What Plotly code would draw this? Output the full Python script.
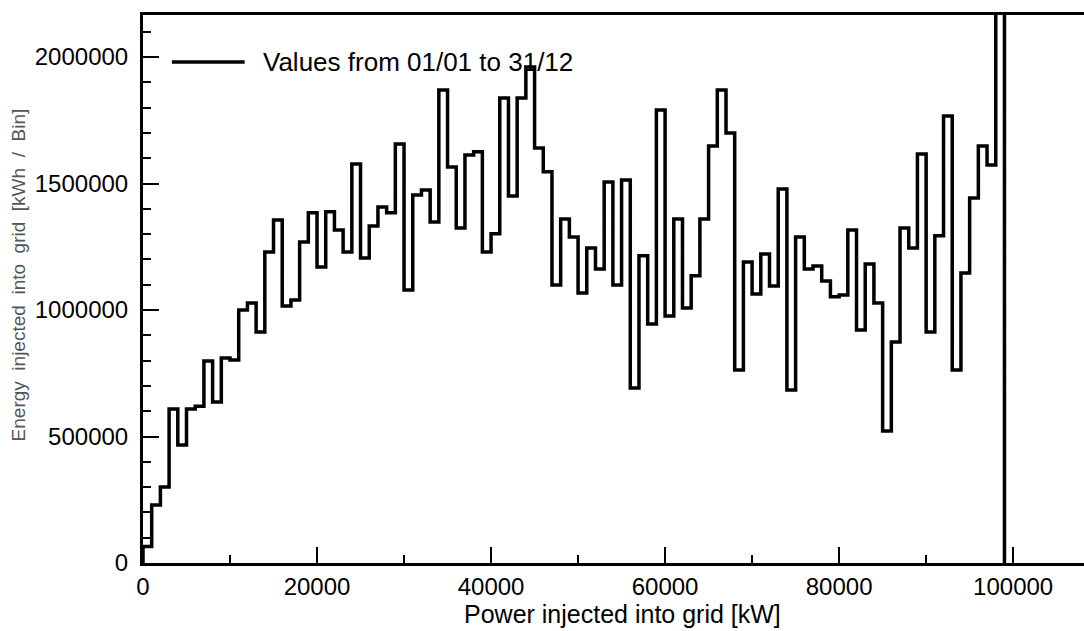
import plotly.graph_objects as go

# Power bins [kW] (bin width 1000 kW) and energy injected per bin [kWh]
bin_width_kw = 1000
bin_start_kw = list(range(0, 99000, bin_width_kw))
energy_kwh = [
    65000, 229000, 300000, 609000, 466000, 609000, 620000, 798000, 636000, 810000,
    802000, 1000000, 1028000, 913000, 1229000, 1356000, 1016000, 1040000, 1269000, 1384000,
    1170000, 1388000, 1316000, 1229000, 1577000, 1206000, 1332000, 1407000, 1384000, 1656000,
    1079000, 1455000, 1474000, 1348000, 1870000, 1565000, 1324000, 1613000, 1625000, 1229000,
    1301000, 1838000, 1451000, 1838000, 1960000, 1640000, 1546000, 1099000, 1360000, 1289000,
    1067000, 1245000, 1162000, 1506000, 1099000, 1514000, 692000, 1214000, 945000, 1791000,
    976000, 1360000, 1008000, 1135000, 1360000, 1648000, 1870000, 1700000, 763000, 1190000,
    1063000, 1221000, 1095000, 1478000, 684000, 1289000, 1162000, 1174000, 1115000, 1052000,
    1059000, 1316000, 921000, 1182000, 1028000, 522000, 874000, 1324000, 1245000, 1617000,
    913000, 1293000, 1767000, 763000, 1146000, 1443000, 1648000, 1573000, 2600000,
]
series_name = "Values from 01/01 to 31/12"
x_tick_vals = [0, 20000, 40000, 60000, 80000, 100000]
y_tick_vals = [0, 500000, 1000000, 1500000, 2000000]

# step outline: start at 0, one level per bin, drop back to 0 at the last edge
step_x = [0] + bin_start_kw + [bin_start_kw[-1] + bin_width_kw]
step_y = [0] + energy_kwh + [0]

W, H = 1090, 631
L, R, T, B = 143, 0, 15, 68
pw, ph = W - L - R, H - T - B

def px(xp):
    return (xp - L) / pw

def py(yp):
    return (H - B - yp) / ph

fig = go.Figure()
fig.add_trace(go.Scatter(
    x=step_x, y=step_y, mode="lines", line=dict(shape="hv", color="black", width=3.5),
    name=series_name, showlegend=False, hoverinfo="skip",
))

font_main = "Liberation Sans, Arial, sans-serif"
axis_common = dict(
    showgrid=False, zeroline=False, showline=True, linecolor="black", linewidth=3,
    mirror=True, ticks="inside", tickcolor="black", tickwidth=1.5, ticklen=16,
    tickformat="d",
)
fig.update_layout(
    width=W, height=H, margin=dict(l=L, r=R, t=T, b=B),
    paper_bgcolor="white", plot_bgcolor="white",
    xaxis=dict(range=[0, pw / 941 * 107800], tickvals=x_tick_vals, ticklabelstandoff=0,
               tickfont=dict(family=font_main, size=24, color="black"),
               minor=dict(dtick=10000, tick0=0, ticklen=8, ticks="inside", tickcolor="black", tickwidth=1.5),
               **axis_common),
    yaxis=dict(range=[0, 2166000], tickvals=y_tick_vals, ticklabelstandoff=7,
               tickfont=dict(family=font_main, size=24, color="black"),
               minor=dict(dtick=100000, tick0=0, ticklen=8, ticks="inside", tickcolor="black", tickwidth=1.5),
               **axis_common),
    showlegend=False,
)

# legend sample + label
fig.add_shape(type="line", xref="paper", yref="paper", x0=px(172), x1=px(245), y0=py(62), y1=py(62),
              line=dict(color="black", width=3.5))
fig.add_annotation(xref="paper", yref="paper", x=px(261), y=py(62), xanchor="left", yanchor="middle",
                   text=series_name, showarrow=False, font=dict(family=font_main, size=26, color="black"))

# axis titles
fig.add_annotation(xref="paper", yref="paper", x=px(624), y=py(614), xanchor="center", yanchor="middle",
                   text="Power injected into grid [kW]", showarrow=False,
                   font=dict(family=font_main, size=25, color="black"))
sp = "\u00a0\u00a0"
ytitle = sp.join(["Energy", "injected", "into", "grid", "[kWh", "/", "Bin]"])
fig.add_annotation(xref="paper", yref="paper", x=px(18), y=py(275), xanchor="center", yanchor="middle",
                   text=ytitle, textangle=-90, showarrow=False,
                   font=dict(family=font_main, size=19, color="#555555"))

fig.write_html(
    "out.html",
    config={"displayModeBar": False},
    post_script="document.body.style.margin='0';document.body.style.overflow='hidden';"
                "document.documentElement.style.overflow='hidden';",
)
